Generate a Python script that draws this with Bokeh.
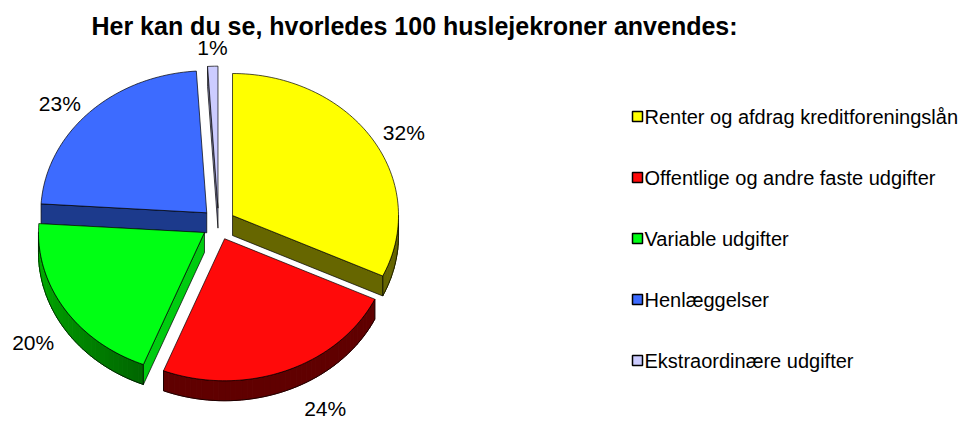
import math
import numpy as np
from bokeh.plotting import figure
from bokeh.models import Range1d, ColumnDataSource
from bokeh.core.properties import value
from bokeh.embed import file_html
from bokeh.resources import INLINE

# ---- data ----
title_text = "Her kan du se, hvorledes 100 huslejekroner anvendes:"
categories = [
    "Renter og afdrag kreditforeningslån",
    "Offentlige og andre faste udgifter",
    "Variable udgifter",
    "Henlæggelser",
    "Ekstraordinære udgifter",
]
shares = [32, 24, 20, 23, 1]
top_colors = ["#FFFF00", "#FF0A0A", "#00FF14", "#3D6BFF", "#CCCCFF"]
side_colors = ["#666600", "#600000", "#006400", "#1C3A8C", "#8E8EB8"]
rim_light = ["#666600", "#600000", "#00B800", "#1C3A8C", "#8E8EB8"]
wall_colors = ["#666600", "#600000", "#00CC10", "#1C3A8C", "#8E8EB8"]

# ---- geometry (screen pixels) ----
CX, CY = 218.0, 223.5
RX, RY = 166.0, 142.0
DEPTH = 20.0
EXPLODE = 16.6
KE = 0.955
FONT = "Liberation Sans"
W, H = 964, 421

p = figure(width=W, height=H, output_backend="svg", toolbar_location=None,
           x_range=Range1d(0, W), y_range=Range1d(H, 0),
           x_axis_location=None, y_axis_location=None, min_border=0)
p.grid.visible = False
p.outline_line_color = None
p.background_fill_color = "white"
p.border_fill_color = "white"


def rgb(h):
    h = h.lstrip("#")
    return [int(h[i:i + 2], 16) for i in (0, 2, 4)]


def mix(a, b, f):
    ca, cb = rgb(a), rgb(b)
    return "#%02x%02x%02x" % tuple(int(round(x + (y - x) * f)) for x, y in zip(ca, cb))


total = float(sum(shares))
starts, ends = [], []
acc = 0.0
for s in shares:
    starts.append(acc / total * 360.0)
    acc += s
    ends.append(acc / total * 360.0)

slices = []
for i, s in enumerate(shares):
    t1, t2 = starts[i], ends[i]
    mid = math.radians((t1 + t2) / 2)
    ox = CX + EXPLODE * math.sin(mid)
    oy = CY - EXPLODE * math.cos(mid) * KE
    slices.append((i, t1, t2, mid, ox, oy))

order = sorted(slices, key=lambda sl: -math.cos(sl[3]))


def rim_pt(ox, oy, t_deg, dz=0.0):
    t = math.radians(t_deg)
    return ox + RX * math.sin(t), oy - RY * math.cos(t) + dz


for (i, t1, t2, mid, ox, oy) in order:
    # outer rim (front half)
    a, b = max(t1, 90.0), min(t2, 270.0)
    if b > a:
        ts = np.linspace(a, b, max(3, int((b - a) / 2) + 2))
        seg_xs, seg_ys, seg_c = [], [], []
        for k in range(len(ts) - 1):
            ta, tb = ts[k], ts[k + 1]
            pa, pb = rim_pt(ox, oy, ta), rim_pt(ox, oy, tb)
            seg_xs.append([pa[0], pb[0], pb[0], pa[0]])
            seg_ys.append([pa[1], pb[1], pb[1] + DEPTH, pa[1] + DEPTH])
            f = min(1.0, max(0.0, ((ta + tb) / 2 - 200.0) / 70.0))
            seg_c.append(mix(side_colors[i], rim_light[i], f))
        p.patches(seg_xs, seg_ys, fill_color=seg_c, line_color=seg_c, line_width=1)
        top = [rim_pt(ox, oy, t) for t in ts]
        bot = [rim_pt(ox, oy, t, DEPTH) for t in ts[::-1]]
        pts = top + bot
        p.patch([q[0] for q in pts], [q[1] for q in pts], fill_alpha=0,
                line_color="black", line_width=0.7)
    # radial walls
    if math.sin(math.radians(t1)) < -1e-3:
        r0 = rim_pt(ox, oy, t1)
        p.patch([ox, r0[0], r0[0], ox], [oy, r0[1], r0[1] + DEPTH, oy + DEPTH],
                fill_color=wall_colors[i], line_color="black", line_width=0.7)
    if math.sin(math.radians(t2)) > 1e-3:
        r0 = rim_pt(ox, oy, t2)
        p.patch([ox, r0[0], r0[0], ox], [oy, r0[1], r0[1] + DEPTH, oy + DEPTH],
                fill_color=wall_colors[i], line_color="black", line_width=0.7)
    # top face
    ts = np.linspace(t1, t2, max(3, int((t2 - t1) / 1.5) + 2))
    pts = [(ox, oy)] + [rim_pt(ox, oy, t) for t in ts]
    p.patch([q[0] for q in pts], [q[1] for q in pts], fill_color=top_colors[i],
            line_color="black", line_width=0.7)

# ---- percentage labels ----
GAP = 12.0
for (i, t1, t2, mid, ox, oy) in slices:
    sn, cs = math.sin(mid), math.cos(mid)
    lx = ox + (RX + GAP) * sn
    ly = oy - (RY + GAP) * cs
    base = "middle"
    if cs < -0.1:
        ly += DEPTH + 7
        if sn > 0:
            lx += 14
    elif abs(sn) <= 0.3:
        ly += 5
        base = "bottom"
    if sn > 0.3:
        al = "left"
    elif sn < -0.3:
        al = "right"
    else:
        al = "center"
    p.text(x=[lx], y=[ly], text=["%d%%" % shares[i]], text_align=al, text_baseline=base,
           text_font=value(FONT), text_font_size="21px", text_color="black")

# ---- title ----
p.text(x=[414], y=[25], text=[title_text], text_align="center", text_baseline="middle",
       text_font=value(FONT), text_font_style="bold", text_font_size="25px", text_color="black")

# ---- legend ----
LX, LY0, LDY = 637.0, 116.0, 61.0
ly = [LY0 + k * LDY for k in range(len(categories))]
src = ColumnDataSource(dict(x=[LX] * len(categories), y=ly, c=top_colors, t=categories,
                            tx=[LX + 7] * len(categories)))
p.scatter(x="x", y="y", source=src, marker="square", size=10, fill_color="c",
          line_color="black", line_width=1.5)
p.text(x="tx", y="y", text="t", source=src, text_align="left", text_baseline="middle",
       text_font=value(FONT), text_font_size="20px", text_color="black")

open("out.html", "w").write(file_html(p, INLINE))
